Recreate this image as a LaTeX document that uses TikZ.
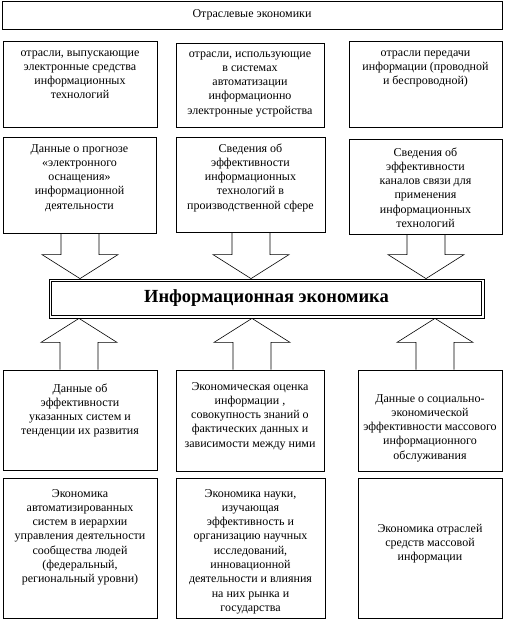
\documentclass[tikz,border=0pt]{standalone}
\usepackage{fontspec}
\setmainfont{Liberation Serif}
\usetikzlibrary{calc}
\tikzset{
  cell/.style={draw, line width=0.8pt, inner sep=0pt},
  arrowline/.style={line width=0.6pt},
}
% text of a cell: width, height, top pad, lines
\newcommand{\celltext}[4]{\parbox[c][#2][t]{#1}{\centering\fontsize{12}{14.3}\selectfont\vspace*{#3}\strut#4\par}}
% hollow block arrow: shaft start, tip
\newcommand{\blockarrow}[2]{%
  \draw[arrowline] let \p1=(#1), \p2=(#2), \p3=($(#2)!24pt!(#1)$) in
    (\x1-19pt,\y1) -- (\x1-19pt,\y3) -- (\x1-38pt,\y3) -- (\x2,\y2)
    -- (\x1+38pt,\y3) -- (\x1+19pt,\y3) -- (\x1+19pt,\y1);}

\begin{document}
\begin{tikzpicture}[x=1pt,y=-1pt]
  \useasboundingbox (0,0) rectangle (520,621);
  % top
  \node[cell, minimum width=500pt, minimum height=28pt, font=\fontsize{12}{14.3}\selectfont] (branch) at (252,15) {Отраслевые экономики};
  % row of branches
  \node[cell] (brA) at (80,84) {\celltext{154pt}{86pt}{5pt}{отрасли, выпускающие\\электронные средства\\информационных\\технологий}};
  \node[cell] (brB) at (250,85) {\celltext{148pt}{84pt}{4pt}{отрасли, использующие\\в системах\\автоматизации\\информационно\\электронные устройства}};
  \node[cell] (brC) at (425.5,84) {\celltext{153pt}{86pt}{5pt}{отрасли передачи\\информации (проводной\\и беспроводной)}};
  % row of data
  \node[cell] (dataA) at (79.5,185) {\celltext{153pt}{96pt}{5pt}{Данные о прогнозе\\«электронного\\оснащения»\\информационной\\деятельности}};
  \node[cell] (dataB) at (250.5,184.5) {\celltext{149pt}{95pt}{5pt}{Сведения об\\эффективности\\информационных\\технологий в\\производственной сфере}};
  \node[cell] (dataC) at (425.5,186.5) {\celltext{153pt}{95pt}{7pt}{Сведения об\\эффективности\\каналов связи для\\применения\\информационных\\технологий}};
  % main
  \node[cell, minimum width=435pt, minimum height=39pt, font=\fontsize{18.5}{21}\selectfont\bfseries] (econ) at (266.5,298.5) {Информационная экономика};
  \draw[line width=1.2pt] ($(econ.north west)+(3,3)$) rectangle ($(econ.south east)+(-3,-3)$);
  % row of estimates
  \node[cell] (evalA) at (80,420) {\celltext{154pt}{100pt}{12pt}{Данные об\\эффективности\\указанных систем и\\тенденции их развития}};
  \node[cell] (evalB) at (250,420.5) {\celltext{148pt}{101pt}{10pt}{Экономическая оценка\\информации ,\\совокупность знаний о\\фактических данных и\\зависимости между ними}};
  \node[cell] (evalC) at (430,420.5) {\celltext{144pt}{101pt}{22pt}{Данные о социально-\\экономической\\эффективности массового\\информационного\\обслуживания}};
  % row of economics
  \node[cell] (ecA) at (80,548) {\celltext{154pt}{140pt}{9pt}{Экономика\\автоматизированных\\систем в иерархии\\управления деятельности\\сообщества людей\\(федеральный,\\региональный уровни)}};
  \node[cell] (ecB) at (250.5,548) {\celltext{149pt}{140pt}{9pt}{Экономика науки,\\изучающая\\эффективность и\\организацию научных\\исследований,\\инновационной\\деятельности и влияния\\на них рынка и\\государства}};
  \node[cell] (ecC) at (430,548) {\celltext{144pt}{140pt}{44pt}{Экономика отраслей\\средств массовой\\информации}};
  % arrows
  \blockarrow{80,0 |- dataA.south}{80,0 |- econ.north}
  \blockarrow{251,0 |- dataB.south}{251,0 |- econ.north}
  \blockarrow{426,0 |- dataC.south}{426,0 |- econ.north}
  \blockarrow{79,0 |- evalA.north}{79,0 |- econ.south}
  \blockarrow{252,0 |- evalB.north}{252,0 |- econ.south}
  \blockarrow{435,0 |- evalC.north}{435,0 |- econ.south}
\end{tikzpicture}
\end{document}
